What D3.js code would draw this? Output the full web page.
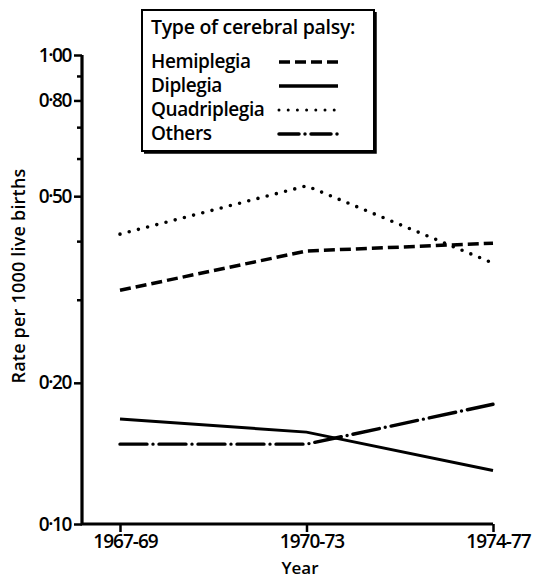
<!DOCTYPE html>
<html>
<head>
<meta charset="utf-8">
<script src="https://cdn.jsdelivr.net/npm/d3@7"></script>
<style>
  body { margin: 0; background: #fff; }
  svg text { font-family: 'Open Sans', sans-serif; font-weight: 600; fill: #000; }
</style>
</head>
<body>
<div id="chart"></div>
<script>
const periods = ['1967-69', '1970-73', '1974-77']
const hemiplegia = [0.315, 0.382, 0.397]
const diplegia = [0.1675, 0.157, 0.130]
const quadriplegia = [0.415, 0.526, 0.360]
const others = [0.148, 0.148, 0.180]
const majorTicks = [0.1, 0.2, 0.5, 0.8, 1.0]
const minorTicks = [0.3, 0.4, 0.6, 0.7, 0.9]
const seriesNames = ['Hemiplegia', 'Diplegia', 'Quadriplegia', 'Others']

const width = 540
const height = 579

const svg = d3
  .select('#chart')
  .append('svg')
  .attr('width', width)
  .attr('height', height)

const x = d3.scalePoint().domain(periods).range([120, 493])
const y = d3.scaleLog().domain([0.1, 1]).range([524, 55])
const axisX = 82

// dash styles per series
const styles = {
  Hemiplegia: { dash: '11,5', cap: 'butt', w: 3.5 },
  Diplegia: { dash: null, cap: 'butt', w: 3 },
  Quadriplegia: { dash: '0,9.5', cap: 'round', w: 3.6 },
  Others: { dash: '27,6,0,6', cap: 'round', w: 3.4 },
}
const legendDash = {
  Hemiplegia: '11,5',
  Diplegia: null,
  Quadriplegia: '0,9.2',
  Others: '20,6,0,6',
}

// y axis
const yAxis = d3
  .axisLeft(y)
  .tickValues(majorTicks)
  .tickSize(8)
  .tickPadding(3)
  .tickFormat((d) => d3.format('.2f')(d).replace('.', '·'))

const gy = svg.append('g').attr('transform', `translate(${axisX},0)`).call(yAxis)
gy.select('.domain').remove()
gy.selectAll('.tick line').attr('stroke', '#000').attr('stroke-width', 2.5)
gy.selectAll('.tick text')
  .style('font-family', "'Open Sans', sans-serif")
  .style('font-weight', 600)
  .style('font-size', '19px')
  .style('letter-spacing', '-1.4px')

svg
  .selectAll('.minor')
  .data(minorTicks)
  .enter()
  .append('line')
  .attr('class', 'minor')
  .attr('x1', axisX - 5)
  .attr('x2', axisX)
  .attr('y1', (d) => y(d))
  .attr('y2', (d) => y(d))
  .attr('stroke', '#000')
  .attr('stroke-width', 2.5)

// x axis
const xAxis = d3.axisBottom(x).tickSize(8).tickPadding(3)
const gx = svg.append('g').attr('transform', `translate(0,${y(0.1)})`).call(xAxis)
gx.select('.domain').remove()
gx.selectAll('.tick line').attr('stroke', '#000').attr('stroke-width', 2.5)
gx.selectAll('.tick text')
  .attr('dx', 5)
  .style('font-family', "'Open Sans', sans-serif")
  .style('font-weight', 600)
  .style('font-size', '19px')
  .style('letter-spacing', '-1px')

// axis lines (drawn as an L)
svg
  .append('path')
  .attr('d', `M${axisX},${y(1)}V${y(0.1)}H${x('1974-77')}`)
  .attr('fill', 'none')
  .attr('stroke', '#000')
  .attr('stroke-width', 3.2)

// axis titles
svg
  .append('text')
  .attr('transform', `translate(25,276) rotate(-90)`)
  .attr('text-anchor', 'middle')
  .style('font-size', '18px')
  .style('letter-spacing', '0.2px')
  .text('Rate per 1000 live births')

svg
  .append('text')
  .attr('x', 300)
  .attr('y', 574)
  .attr('text-anchor', 'middle')
  .style('font-size', '17px')
  .text('Year')

// lines
const series = [hemiplegia, diplegia, quadriplegia, others]
const line = d3
  .line()
  .x((d, i) => x(periods[i]))
  .y((d) => y(d))

svg
  .selectAll('.series')
  .data(series)
  .enter()
  .append('path')
  .attr('class', 'series')
  .attr('d', (d) => line(d))
  .attr('fill', 'none')
  .attr('stroke', '#000')
  .attr('stroke-width', (d, i) => styles[seriesNames[i]].w)
  .attr('stroke-linecap', (d, i) => styles[seriesNames[i]].cap)
  .attr('stroke-dasharray', (d, i) => styles[seriesNames[i]].dash)

// legend box
const lg = svg.append('g')
lg.append('rect')
  .attr('x', 142)
  .attr('y', 10)
  .attr('width', 232)
  .attr('height', 141)
  .attr('fill', '#fff')
  .attr('stroke', '#000')
  .attr('stroke-width', 2)
lg.append('path')
  .attr('d', 'M144,152H375V12')
  .attr('fill', 'none')
  .attr('stroke', '#000')
  .attr('stroke-width', 3.5)

lg.append('text')
  .attr('x', 151)
  .attr('y', 34)
  .style('font-size', '19.5px')
  .style('letter-spacing', '-0.3px')
  .text('Type of cerebral palsy:')

const rowY = [62, 86, 110, 134]
seriesNames.forEach((name, i) => {
  lg.append('text')
    .attr('x', 151)
    .attr('y', rowY[i] + 6)
    .style('font-size', '19px')
    .style('letter-spacing', '-0.4px')
    .text(name)
  lg.append('line')
    .attr('x1', 279)
    .attr('x2', 338)
    .attr('y1', rowY[i])
    .attr('y2', rowY[i])
    .attr('stroke', '#000')
    .attr('stroke-width', name === 'Quadriplegia' ? 3 : 3.5)
    .attr('stroke-linecap', name === 'Quadriplegia' || name === 'Others' ? 'round' : 'butt')
    .attr('stroke-dasharray', legendDash[name])
})
</script>
</body>
</html>
